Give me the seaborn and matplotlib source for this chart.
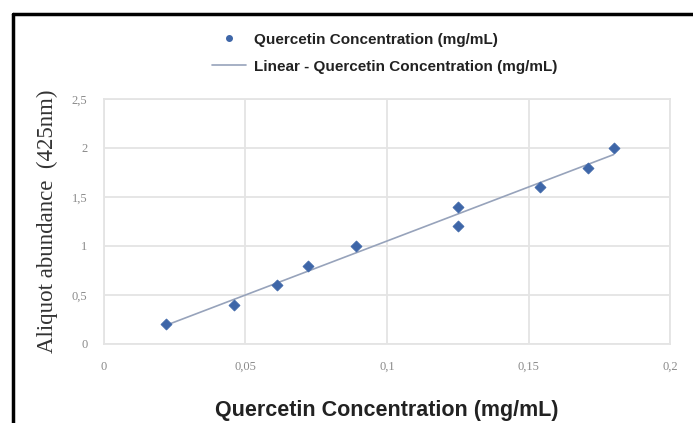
import numpy as np
import pandas as pd
import seaborn as sns
import matplotlib
matplotlib.use("Agg")
from matplotlib import pyplot as plt
from matplotlib.lines import Line2D
from matplotlib.ticker import FuncFormatter

# values
concentration = [0.022, 0.046, 0.061, 0.072, 0.089, 0.125, 0.125, 0.154, 0.171, 0.180]
abundance = [0.2, 0.4, 0.6, 0.8, 1.0, 1.2, 1.4, 1.6, 1.8, 2.0]
x_ticks = [0, 0.05, 0.1, 0.15, 0.2]
y_ticks = [0, 0.5, 1, 1.5, 2, 2.5]

df = pd.DataFrame({'conc': concentration, 'abund': abundance})

sns.set_style('white')
plt.rcParams['font.family'] = ['Liberation Sans', 'DejaVu Sans']

fig = plt.figure(figsize=(6.93, 4.23), dpi=100)
ax = fig.add_axes([0.150, 0.187, 0.817, 0.579])

# linear trend line (least squares)
slope, intercept = np.polyfit(df['conc'], df['abund'], 1)
fit = pd.DataFrame({'conc': [df['conc'].min(), df['conc'].max()]})
fit['abund'] = slope * fit['conc'] + intercept
sns.lineplot(data=fit, x='conc', y='abund', ax=ax, color='#97a3bb', linewidth=1.2, zorder=2)

sns.scatterplot(data=df, x='conc', y='abund', ax=ax, marker='D', s=32,
                color='#3e66a8', edgecolor='#3e66a8', linewidth=0.5, zorder=3)

ax.set_xlim(0, 0.2)
ax.set_ylim(0, 2.5)
ax.set_xticks(x_ticks)
ax.set_yticks(y_ticks)
comma = FuncFormatter(lambda v, p: ('%g' % v).replace('.', ','))
ax.xaxis.set_major_formatter(comma)
ax.yaxis.set_major_formatter(comma)
ax.grid(True, color='#e4e4e4', linewidth=1.3)
for s in ax.spines.values():
    s.set_color('#e4e4e4')
    s.set_linewidth(1.3)
ax.tick_params(length=0, labelsize=9, labelcolor='#8a8a8a', pad=12)
for t in ax.get_xticklabels() + ax.get_yticklabels():
    t.set_family('Liberation Serif')

ax.set_xlabel('Quercetin Concentration (mg/mL)', fontsize=15.5, fontweight='bold',
              color='#222222', labelpad=20)
ax.set_ylabel('Aliquot abundance  (425nm)', fontsize=16.5, family='Liberation Serif',
              color='#333333', labelpad=10)

handles = [
    Line2D([], [], marker='o', linestyle='none', markersize=4, color='#3e66a8'),
    Line2D([], [], color='#97a3bb', linewidth=1.2),
]
labels = ['Quercetin Concentration (mg/mL)', 'Linear - Quercetin Concentration (mg/mL)']
fig.legend(handles, labels, loc='upper center', bbox_to_anchor=(0.555, 0.955), frameon=False,
           prop={'size': 11, 'weight': 'bold'}, handlelength=2.2, handletextpad=0.5,
           labelspacing=0.85, labelcolor='#222222')

# black frame at top and left
fig.add_artist(Line2D([0.019, 1.0], [0.967, 0.967], transform=fig.transFigure, color='black', linewidth=2.5))
fig.add_artist(Line2D([0.019, 0.019], [0.0, 0.967], transform=fig.transFigure, color='black', linewidth=2.5))

fig.savefig('out.png', dpi=100)
